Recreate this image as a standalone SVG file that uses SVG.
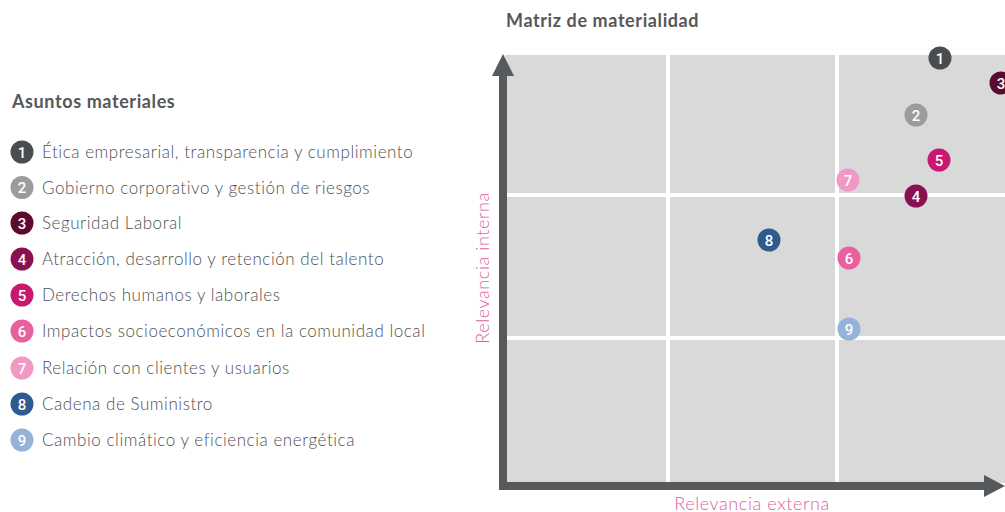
<svg xmlns="http://www.w3.org/2000/svg" width="1005" height="512" viewBox="0 0 1005 512">
<style>
.title{font-family:"Lato","Open Sans",sans-serif;font-weight:700;font-size:18px;letter-spacing:0.6px;fill:#55575a}
.item{font-family:"Lato","Open Sans",sans-serif;font-weight:300;font-size:17px;letter-spacing:0.55px;fill:#4f5153}
.num{font-family:"Roboto","Liberation Sans",sans-serif;font-weight:500;font-size:15px;fill:#fff;text-anchor:middle}
.axl{font-family:"Lato","Open Sans",sans-serif;font-weight:300;font-size:18px;letter-spacing:0.6px;fill:#e0609e;text-anchor:middle}
.grid{stroke:#fff;stroke-width:4}
</style>
<rect width="1005" height="512" fill="#fff"/>
<text class="title" x="506" y="27">Matriz de materialidad</text>
<text class="title" x="12" y="108">Asuntos materiales</text>
<g id="legend">
<g id="l1"><circle cx="22" cy="152" r="11.5" fill="#4a4d4f"/><text class="num" x="22" y="157.5">1</text><text class="item" x="42" y="158">Ética empresarial, transparencia y cumplimiento</text></g>
<g id="l2"><circle cx="22" cy="187.5" r="11.5" fill="#9a9c9e"/><text class="num" x="22" y="193">2</text><text class="item" x="42" y="193.5">Gobierno corporativo y gestión de riesgos</text></g>
<g id="l3"><circle cx="22" cy="223" r="11.5" fill="#5c0a30"/><text class="num" x="22" y="228.5">3</text><text class="item" x="42" y="229">Seguridad Laboral</text></g>
<g id="l4"><circle cx="22" cy="259" r="11.5" fill="#8a1150"/><text class="num" x="22" y="264.5">4</text><text class="item" x="42" y="265">Atracción, desarrollo y retención del talento</text></g>
<g id="l5"><circle cx="22" cy="295" r="11.5" fill="#c8186f"/><text class="num" x="22" y="300.5">5</text><text class="item" x="42" y="301">Derechos humanos y laborales</text></g>
<g id="l6"><circle cx="22" cy="331" r="11.5" fill="#e9609f"/><text class="num" x="22" y="336.5">6</text><text class="item" x="42" y="337">Impactos socioeconómicos en la comunidad local</text></g>
<g id="l7"><circle cx="22" cy="368" r="11.5" fill="#f199c4"/><text class="num" x="22" y="373.5">7</text><text class="item" x="42" y="374">Relación con clientes y usuarios</text></g>
<g id="l8"><circle cx="22" cy="404" r="11.5" fill="#2f5b8e"/><text class="num" x="22" y="409.5">8</text><text class="item" x="42" y="410">Cadena de Suministro</text></g>
<g id="l9"><circle cx="22" cy="440" r="11.5" fill="#95b3d9"/><text class="num" x="22" y="445.5">9</text><text class="item" x="42" y="446">Cambio climático y eficiencia energética</text></g>
</g>
<g id="matrix">
<rect x="505" y="55" width="500" height="428" fill="#d9d9d9"/>
<line class="grid" x1="668" y1="55" x2="668" y2="483"/>
<line class="grid" x1="837" y1="55" x2="837" y2="483"/>
<line class="grid" x1="505" y1="195" x2="1005" y2="195"/>
<line class="grid" x1="505" y1="338" x2="1005" y2="338"/>
</g>
<g id="axes" fill="#575a5c">
<rect x="499" y="74" width="8" height="416"/>
<polygon points="503,54 492,76 514,76"/>
<rect x="499" y="482" width="488" height="8"/>
<polygon points="1005,486 984,475 984,497"/>
</g>
<text class="axl" transform="translate(489,268) rotate(-90)">Relevancia interna</text>
<text class="axl" x="752" y="510">Relevancia externa</text>
<g id="points">
<g id="p1"><circle cx="940" cy="58" r="11.5" fill="#4a4d4f"/><text class="num" x="940" y="63.5">1</text></g>
<g id="p2"><circle cx="916" cy="115" r="11.5" fill="#9a9c9e"/><text class="num" x="916" y="120.5">2</text></g>
<g id="p3"><circle cx="1001" cy="83" r="11.5" fill="#5c0a30"/><text class="num" x="1001" y="88.5">3</text></g>
<g id="p5"><circle cx="939" cy="160" r="11.5" fill="#c8186f"/><text class="num" x="939" y="165.5">5</text></g>
<g id="p7"><circle cx="848" cy="180" r="11.5" fill="#f199c4"/><text class="num" x="848" y="185.5">7</text></g>
<g id="p4"><circle cx="916" cy="196" r="11.5" fill="#8a1150"/><text class="num" x="916" y="201.5">4</text></g>
<g id="p8"><circle cx="769" cy="240" r="11.5" fill="#2f5b8e"/><text class="num" x="769" y="245.5">8</text></g>
<g id="p6"><circle cx="849" cy="258" r="11.5" fill="#e9609f"/><text class="num" x="849" y="263.5">6</text></g>
<g id="p9"><circle cx="849" cy="329" r="11.5" fill="#95b3d9"/><text class="num" x="849" y="334.5">9</text></g>
</g>
</svg>
